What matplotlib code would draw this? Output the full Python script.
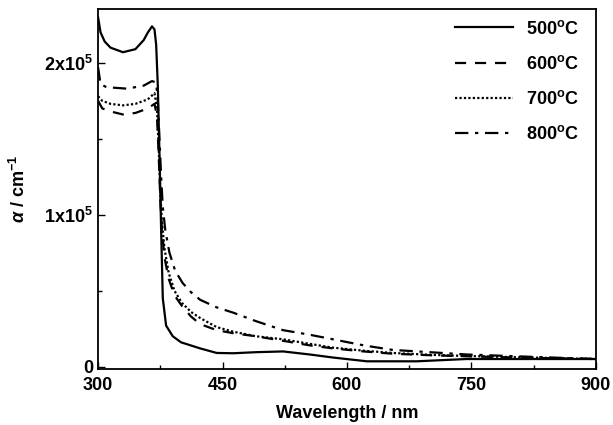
import numpy as np
import matplotlib
matplotlib.use("Agg")
import matplotlib.pyplot as plt
from matplotlib.ticker import MultipleLocator, FixedLocator

plt.rcParams['font.family'] = ['Liberation Sans', 'DejaVu Sans']
plt.rcParams['font.weight'] = 'bold'
plt.rcParams['mathtext.fontset'] = 'custom'
plt.rcParams['mathtext.rm'] = 'Liberation Sans:bold'
plt.rcParams['mathtext.it'] = 'Liberation Sans:italic:bold'
plt.rcParams['mathtext.bf'] = 'Liberation Sans:bold'

# wavelength (nm) and absorption coefficient (x1e5 cm^-1)
wl_500 = [300, 303, 308, 315, 330, 345, 355, 360, 365, 368, 370, 372, 374, 376, 378,
          382, 390, 400, 423, 443, 463, 490, 523, 555, 583, 624, 684, 744, 820, 900]
a_500 = [2.30, 2.20, 2.14, 2.10, 2.07, 2.09, 2.15, 2.20, 2.24, 2.22, 2.12, 1.85, 1.40, 0.90, 0.45,
         0.27, 0.20, 0.16, 0.12, 0.09, 0.088, 0.095, 0.10, 0.08, 0.06, 0.035, 0.035, 0.05, 0.05, 0.05]

wl_600 = [300, 305, 315, 330, 345, 360, 368, 371, 373, 375, 377, 380, 385, 392, 401,
          412, 423, 443, 463, 490, 523, 555, 583, 620, 655, 700, 744, 820, 900]
a_600 = [1.75, 1.70, 1.68, 1.66, 1.67, 1.70, 1.73, 1.65, 1.40, 1.10, 0.90, 0.72, 0.58, 0.47, 0.40,
         0.33, 0.28, 0.24, 0.22, 0.20, 0.17, 0.14, 0.12, 0.10, 0.085, 0.075, 0.068, 0.058, 0.05]

wl_700 = [300, 305, 315, 330, 345, 360, 368, 371, 373, 375, 377, 380, 385, 392, 401,
          412, 423, 443, 463, 490, 523, 555, 583, 620, 655, 700, 744, 820, 900]
a_700 = [1.78, 1.75, 1.73, 1.72, 1.73, 1.76, 1.80, 1.70, 1.45, 1.15, 0.95, 0.78, 0.62, 0.50, 0.42,
         0.36, 0.32, 0.26, 0.23, 0.20, 0.18, 0.15, 0.125, 0.105, 0.09, 0.078, 0.07, 0.06, 0.05]

wl_800 = [300, 303, 310, 335, 355, 365, 370, 372, 374, 376, 378, 381, 386, 393, 402,
          412, 423, 443, 463, 490, 523, 555, 583, 620, 655, 700, 744, 820, 900]
a_800 = [1.97, 1.86, 1.84, 1.83, 1.85, 1.88, 1.87, 1.75, 1.50, 1.25, 1.05, 0.90, 0.75, 0.63, 0.55,
         0.49, 0.44, 0.39, 0.355, 0.30, 0.24, 0.21, 0.18, 0.14, 0.11, 0.095, 0.08, 0.065, 0.05]

labels = ['500$^{\\rm o}$C', '600$^{\\rm o}$C', '700$^{\\rm o}$C', '800$^{\\rm o}$C']
styles = ['-', (0, (5, 4)), (0, (1, 1)), (0, (6, 3, 1.5, 3))]

fig = plt.figure(figsize=(6.13, 4.25), dpi=100)
ax = fig.add_axes([0.160, 0.132, 0.812, 0.847])

series = [(wl_500, a_500), (wl_600, a_600), (wl_700, a_700), (wl_800, a_800)]
for (w, a), lab, ls in zip(series, labels, styles):
    ax.plot(w, np.array(a) * 1e5, color='black', lw=1.6, ls=ls, label=lab)

ax.set_xlim(300, 900)
ax.set_ylim(-1.5e3, 2.355e5)
ax.xaxis.set_major_locator(MultipleLocator(150))
ax.xaxis.set_minor_locator(MultipleLocator(75))
ax.yaxis.set_major_locator(FixedLocator([0, 1e5, 2e5]))
ax.yaxis.set_minor_locator(FixedLocator([0.5e5, 1.5e5]))
ax.set_yticklabels(['0', '1x10$^5$', '2x10$^5$'])
ax.tick_params(which='both', direction='in', labelsize=13, width=1.0)
ax.tick_params(which='major', length=5)
ax.tick_params(which='minor', length=3)
ax.tick_params(axis='x', pad=6)
for s in ax.spines.values():
    s.set_linewidth(1.3)

ax.set_xlabel('Wavelength / nm', fontsize=13, fontweight='bold', labelpad=8)
ax.set_ylabel('$\\alpha$ / cm$^{-1}$', fontsize=13, fontweight='bold', labelpad=11)

leg = ax.legend(loc='upper right', bbox_to_anchor=(0.988, 1.0), frameon=False, fontsize=13,
                handlelength=3.2, handletextpad=0.75, labelspacing=0.95, borderaxespad=0.2)

fig.savefig('out.png', dpi=100)
